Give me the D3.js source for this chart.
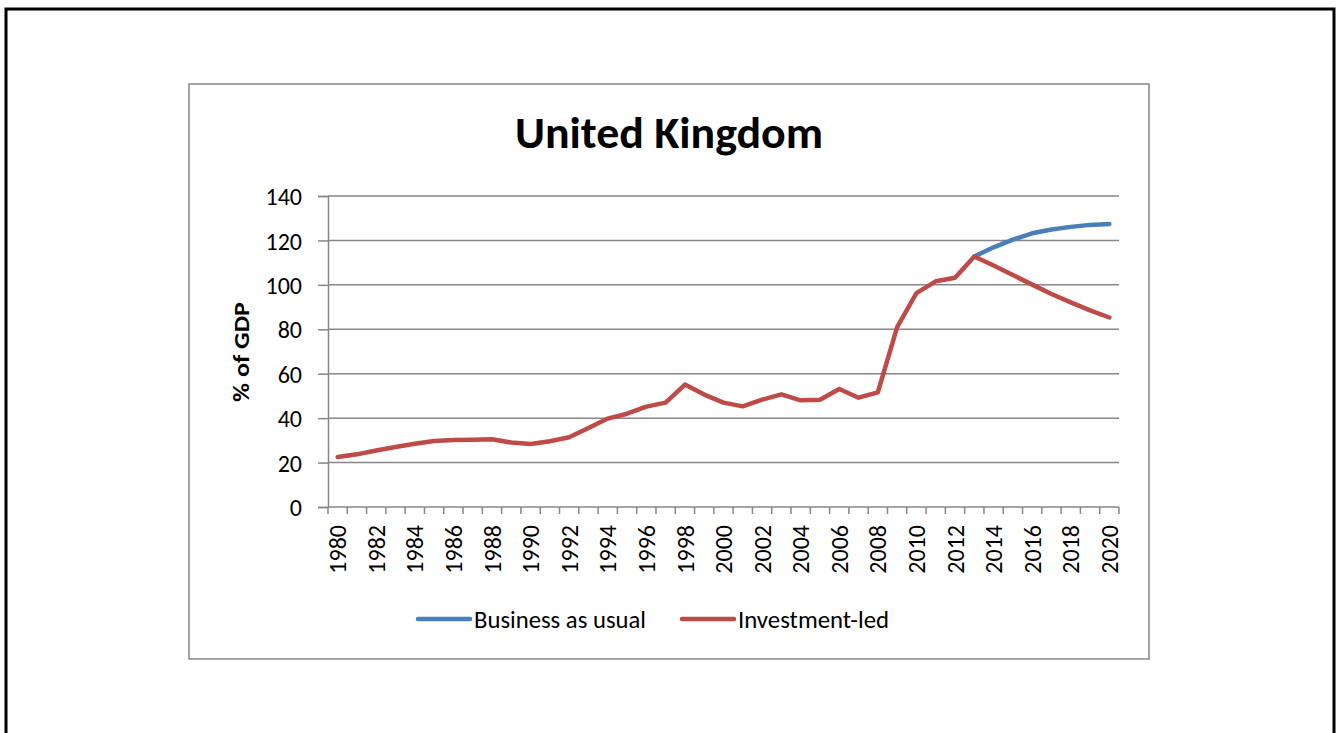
<!DOCTYPE html>
<html>
<head>
<meta charset="utf-8">
<script src="https://cdn.jsdelivr.net/npm/d3@7"></script>
<style>
  body { margin: 0; background: #fff; }
  text { font-family: Carlito, Calibri, Lato, sans-serif; fill: #000; }
</style>
</head>
<body>
<svg id="chart" width="1338" height="733"></svg>
<script>
// years on the category axis
let years = d3.range(1980, 2021);
let yearLabels = years.filter(y => y % 2 === 0);

// debt, % of GDP (history shared by both scenarios up to 2013)
let history = [22.5, 23.7, 25.4, 27.0, 28.5, 29.7, 30.2, 30.3, 30.5, 29.0,
  28.4, 29.6, 31.4, 35.6, 39.8, 42.0, 45.2, 47.0, 55.1, 50.6,
  47.0, 45.3, 48.3, 50.7, 48.0, 48.3, 53.1, 49.2, 51.6, 81.0,
  96.3, 101.6, 103.2, 112.8];
let businessAsUsual = [116.9, 120.4, 123.2, 124.9, 126.1, 127.0, 127.4];
let investmentLed = [108.7, 104.4, 100.1, 95.9, 92.1, 88.5, 85.3];
let yTicks = [0, 20, 40, 60, 80, 100, 120, 140];

let seriesNames = ["Business as usual", "Investment-led"];
let seriesColors = ["#4a7ebb", "#be4b48"];

// build series rows; BAU only drawn from 2013 onwards
let bauRows = [{ year: 2013, v: history[history.length - 1] }]
  .concat(businessAsUsual.map((v, i) => ({ year: 2014 + i, v: v })));
let invRows = history.map((v, i) => ({ year: 1980 + i, v: v }))
  .concat(investmentLed.map((v, i) => ({ year: 2014 + i, v: v })));

let svg = d3.select("#chart");

// outer page frame
svg.append("rect").attr("x", 6).attr("y", 9).attr("width", 1328).attr("height", 760)
  .attr("fill", "none").attr("stroke", "#000").attr("stroke-width", 3);

// chart area box
svg.append("rect").attr("x", 189).attr("y", 84).attr("width", 960).attr("height", 575)
  .attr("fill", "#fff").attr("stroke", "#868686").attr("stroke-width", 1.5);

let x = d3.scaleBand().domain(years).range([328, 1119]).paddingInner(0).paddingOuter(0);
let y = d3.scaleLinear().domain([0, 140]).range([507, 196]);

let g = svg.append("g");

// gridlines
g.selectAll("line.grid").data(yTicks.filter(t => t > 0)).enter().append("line")
  .attr("class", "grid")
  .attr("x1", 328).attr("x2", 1119)
  .attr("y1", d => y(d)).attr("y2", d => y(d))
  .attr("stroke", "#868686").attr("stroke-width", 1.5);

// y axis
let yAxis = g.append("g").attr("transform", "translate(328,0)")
  .call(d3.axisLeft(y).tickValues(yTicks).tickSize(10).tickPadding(16));
yAxis.select(".domain").attr("stroke", "#868686").attr("stroke-width", 1.5);
yAxis.selectAll(".tick line").attr("stroke", "#868686").attr("stroke-width", 1.5);
yAxis.selectAll(".tick text").style("font-size", "24px").style("font-family", "Carlito, Calibri, Lato, sans-serif")
  .attr("fill", "#000").attr("dy", "0.36em");

// x axis: ticks between categories
let xAxis = g.append("g").attr("transform", "translate(0,507)");
xAxis.append("line").attr("x1", 328).attr("x2", 1119).attr("y1", 0).attr("y2", 0)
  .attr("stroke", "#868686").attr("stroke-width", 1.5);
let boundaries = years.map(d => x(d)).concat([x(2020) + x.bandwidth()]);
xAxis.selectAll("line.tk").data(boundaries).enter().append("line")
  .attr("class", "tk")
  .attr("x1", d => d).attr("x2", d => d).attr("y1", 0).attr("y2", 7)
  .attr("stroke", "#868686").attr("stroke-width", 1.5);
xAxis.selectAll("text").data(yearLabels).enter().append("text")
  .attr("transform", d => `translate(${x(d) + x.bandwidth() / 2},18) rotate(-90)`)
  .attr("text-anchor", "end")
  .attr("dy", "0.36em")
  .style("font-size", "24px")
  .text(d => d);

// lines
let line = d3.line().x(d => x(d.year) + x.bandwidth() / 2).y(d => y(d.v));
g.append("path").datum(bauRows).attr("d", line)
  .attr("fill", "none").attr("stroke", seriesColors[0]).attr("stroke-width", 4.5)
  .attr("stroke-linejoin", "round").attr("stroke-linecap", "round");
g.append("path").datum(invRows).attr("d", line)
  .attr("fill", "none").attr("stroke", seriesColors[1]).attr("stroke-width", 4.5)
  .attr("stroke-linejoin", "round").attr("stroke-linecap", "round");

// title
svg.append("text").attr("x", 669).attr("y", 148).attr("text-anchor", "middle")
  .style("font-size", "45px").style("font-weight", "bold")
  .attr("textLength", 308).attr("lengthAdjust", "spacingAndGlyphs")
  .text("United Kingdom");

// y axis title
svg.append("text").attr("transform", "translate(249,352) rotate(-90)")
  .attr("text-anchor", "middle")
  .style("font-size", "23px").style("font-weight", "bold")
  .attr("textLength", 100).attr("lengthAdjust", "spacingAndGlyphs")
  .text("% of GDP");

// legend
let legendX = [418, 682];
let legendW = [172, 151];
seriesNames.forEach((name, i) => {
  svg.append("line").attr("x1", legendX[i]).attr("x2", legendX[i] + 52)
    .attr("y1", 619).attr("y2", 619)
    .attr("stroke", seriesColors[i]).attr("stroke-width", 4.5).attr("stroke-linecap", "round");
  svg.append("text").attr("x", legendX[i] + 56).attr("y", 619).attr("dy", "0.36em")
    .style("font-size", "24px")
    .attr("textLength", legendW[i]).attr("lengthAdjust", "spacingAndGlyphs")
    .text(name);
});
</script>
</body>
</html>
